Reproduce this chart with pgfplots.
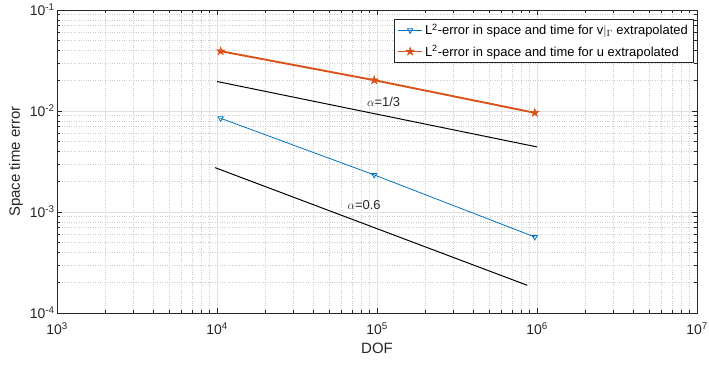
\documentclass[border=0pt]{standalone}
\usepackage{pgfplots}
\pgfplotsset{compat=1.18}
\usepackage{fontspec}
\setmainfont{Liberation Sans}
\definecolor{mblue}{rgb}{0,0.447,0.741}
\definecolor{mred}{rgb}{0.85,0.325,0.098}
\definecolor{axgray}{rgb}{0.15,0.15,0.15}
\pgfdeclareplotmark{pentagram}{%
  \pgfpathmoveto{\pgfpointpolar{90}{\pgfplotmarksize}}%
  \pgfpathlineto{\pgfpointpolar{126}{0.382\pgfplotmarksize}}%
  \pgfpathlineto{\pgfpointpolar{162}{\pgfplotmarksize}}%
  \pgfpathlineto{\pgfpointpolar{198}{0.382\pgfplotmarksize}}%
  \pgfpathlineto{\pgfpointpolar{234}{\pgfplotmarksize}}%
  \pgfpathlineto{\pgfpointpolar{270}{0.382\pgfplotmarksize}}%
  \pgfpathlineto{\pgfpointpolar{306}{\pgfplotmarksize}}%
  \pgfpathlineto{\pgfpointpolar{342}{0.382\pgfplotmarksize}}%
  \pgfpathlineto{\pgfpointpolar{18}{\pgfplotmarksize}}%
  \pgfpathlineto{\pgfpointpolar{54}{0.382\pgfplotmarksize}}%
  \pgfpathclose\pgfusepathqfillstroke}
\begin{document}
\begin{tikzpicture}
\path[use as bounding box] (-57bp,-52bp) rectangle (652bp,313bp);
\begin{axis}[
  at={(0,0)}, anchor=south west,
  scale only axis, width=640bp, height=303bp,
  xmode=log, ymode=log,
  xmin=1e3, xmax=1e7, ymin=1e-4, ymax=1e-1,
  grid=both,
  major grid style={color=black!12, line width=0.5pt},
  minor grid style={color=black!20, dotted, line width=0.5pt},
  tick align=inside,
  major tick length=5bp, minor tick length=3bp,
  axis line style={axgray, line width=0.6pt},
  every tick/.style={axgray, line width=0.5pt},
  xticklabel={10\textsuperscript{\pgfmathparse{int(round(\tick/ln(10)))}\pgfmathresult}},
  yticklabel={10\textsuperscript{\pgfmathparse{int(round(\tick/ln(10)))}\pgfmathresult}},
  ticklabel style={font=\fontsize{14}{16}\selectfont, text=axgray},
  xticklabel style={yshift=-6bp},
  yticklabel style={xshift=1bp},
  xlabel={DOF}, ylabel={Space time error},
  label style={font=\fontsize{15}{17}\selectfont, text=axgray},
  xlabel style={yshift=-2bp},
  ylabel style={yshift=0bp},
  legend style={at={(1,1)}, anchor=north east, xshift=-4bp, yshift=-9bp,
    draw=axgray, line width=0.5pt, font=\fontsize{13}{15}\selectfont,
    inner sep=3bp, row sep=5bp},
  legend image code/.code={%
    \draw[mark repeat=2, mark phase=2] plot coordinates {(0cm,0cm) (0.42cm,0cm) (0.84cm,0cm)};},
  legend cell align=left,
  clip=false,
]
\addplot[mblue, line width=0.8pt, mark=triangle, mark size=3bp,
  mark options={rotate=180, fill=white, solid}]
  coordinates {(10540,0.00847) (96000,0.00233) (968000,0.000566)};
\addlegendentry{L\textsuperscript{2}-error in space and time for v$|_{\Gamma}$ extrapolated}
\addplot[mred, line width=1.9pt, mark=pentagram, mark size=4.4bp,
  mark options={line width=0.5pt, fill=mred, solid}]
  coordinates {(10540,0.0391) (96000,0.0202) (968000,0.0096)};
\addlegendentry{L\textsuperscript{2}-error in space and time for u extrapolated}
\addplot[black, line width=1pt, forget plot]
  coordinates {(10000,0.0196) (1000000,0.00441)};
\addplot[black, line width=1pt, forget plot]
  coordinates {(9720,0.00275) (870000,0.000188)};
\node[font=\fontsize{13}{15}\selectfont, text=axgray] at (axis cs:110000,0.0124) {$\alpha$=1/3};
\node[font=\fontsize{13}{15}\selectfont, text=axgray] at (axis cs:83000,0.00117) {$\alpha$=0.6};
\end{axis}
\end{tikzpicture}
\end{document}
